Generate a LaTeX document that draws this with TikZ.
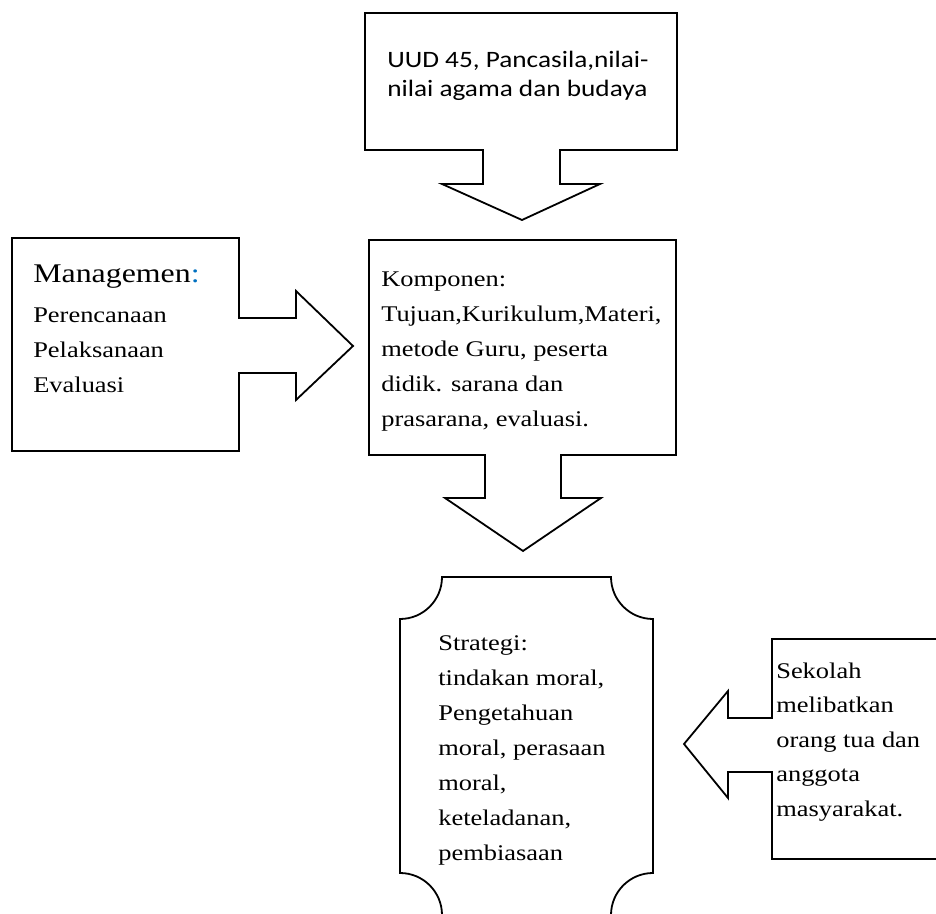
\documentclass[tikz,border=0pt]{standalone}
\usepackage{fontspec}
\setmainfont{Liberation Serif}[FakeStretch=1.18]
\newfontfamily\calibrifont{Carlito}[FakeStretch=1.16]
\usetikzlibrary{positioning}
\definecolor{colonblue}{RGB}{0,112,192}

\begin{document}
\begin{tikzpicture}[x=1pt, y=1pt, semithick,
            callout/.style={draw, line width=1.8pt, line join=miter},
            boxtext/.style={anchor=base west, align=left, inner sep=0pt,
            font=\fontsize{22.4}{35}\selectfont}]

        \useasboundingbox (0,0) rectangle (936,913);

        %callout de arriba, hacia abajo
        \draw[callout] (483,763) -- (365,763) -- (365,900) -- (677,900) -- (677,763)
            -- (560,763) -- (560,729) -- (600,729) -- (522,693) -- (442,729) -- (483,729) -- cycle;

        %callout del centro
        \draw[callout] (485,458) -- (369,458) -- (369,673) -- (676,673) -- (676,458)
            -- (561,458) -- (561,415) -- (601,415) -- (523,362) -- (445,415) -- (485,415) -- cycle;

        %callout izquierda, hacia la derecha
        \draw[callout] (239,595) -- (239,675) -- (12,675) -- (12,462) -- (239,462)
            -- (239,540) -- (296,540) -- (296,513) -- (353,567) -- (296,622) -- (296,595) -- cycle;

        %callout derecha, hacia la izquierda
        \draw[callout] (772,195) -- (772,274) -- (945,274) -- (945,54) -- (772,54)
            -- (772,141) -- (728,141) -- (728,115) -- (684,169) -- (728,222) -- (728,195) -- cycle;

        %placa de abajo
        \draw[callout] (442,336) -- (611,336) arc[start angle=180, end angle=270, radius=42]
            -- (653,40) arc[start angle=90, end angle=180, radius=42]
            -- (442,-2) arc[start angle=0, end angle=90, radius=42]
            -- (400,294) arc[start angle=270, end angle=360, radius=42] -- cycle;

        %el ancla base es la ultima linea
        \node[boxtext, font=\calibrifont\fontsize{23.5}{29}\selectfont] (uud) at (387,816)
            {UUD 45, Pancasila,nilai-\\nilai agama dan budaya};
        \node[boxtext] (komponen) at (381,486)
            {Komponen:\\Tujuan,Kurikulum,Materi,\\metode Guru, peserta\\didik. sarana dan\\prasarana, evaluasi.};
        \node[boxtext] (managemen) at (33,520)
            {{\fontsize{27}{40}\selectfont Managemen\textcolor{colonblue}{:}}\\[5pt]Perencanaan\\Pelaksanaan\\Evaluasi};
        \node[boxtext] (strategi) at (438,53)
            {Strategi:\\tindakan moral,\\Pengetahuan\\moral, perasaan\\moral,\\keteladanan,\\pembiasaan};
        \node[boxtext, font=\fontsize{22.4}{34.5}\selectfont] (sekolah) at (776,97)
            {Sekolah\\melibatkan\\orang tua dan\\anggota\\masyarakat.};

    \end{tikzpicture}
\end{document}
